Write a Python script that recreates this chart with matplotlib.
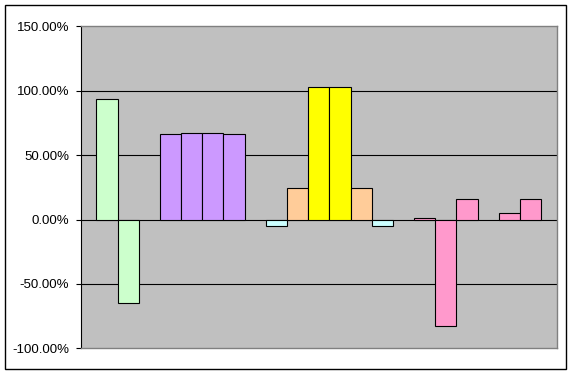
import matplotlib
matplotlib.use("Agg")
import matplotlib.pyplot as plt
from matplotlib.ticker import PercentFormatter
from matplotlib.patches import Rectangle

plt.rcParams['font.family'] = ['Liberation Sans', 'DejaVu Sans']
plt.rcParams['axes.unicode_minus'] = False

# bar values (%) per group, groups separated by one empty slot
groups = [
    [93.9, -65.2],
    [66.0, 66.8, 66.8, 66.0],
    [-4.7, 24.1, 102.5, 102.5, 24.1, -4.7],
    [1.5, -82.3, 16.3],
    [4.7, 16.3],
]
group_colors = [
    ["#CCFFCC", "#CCFFCC"],
    ["#CC99FF"] * 4,
    ["#CCFFFF", "#FFCC99", "#FFFF00", "#FFFF00", "#FFCC99", "#CCFFFF"],
    ["#FF99CC"] * 3,
    ["#FF99CC"] * 2,
]
yticks = [-100, -50, 0, 50, 100, 150]

fig = plt.figure(figsize=(5.73, 3.75), dpi=100)
W, H = 573, 375
ax = fig.add_axes([80.7 / W, (H - 348.3) / H, (557.3 - 80.7) / W, (348.3 - 26.3) / H])
ax.set_facecolor("#C0C0C0")

for y in [-50, 0, 50, 100]:
    ax.axhline(y, color="black", lw=0.8, zorder=1)

x = 0
for vals, cols in zip(groups, group_colors):
    xs = [x + i + 0.5 for i in range(len(vals))]
    ax.bar(xs, vals, width=1.0, color=cols, edgecolor="black", linewidth=0.8, zorder=2)
    x += len(vals) + 1

ax.set_xlim(-0.74, x - 1 + 0.76)
ax.set_ylim(-100, 150)
ax.set_yticks(yticks)
ax.yaxis.set_major_formatter(PercentFormatter(xmax=100, decimals=2))
ax.tick_params(axis="y", direction="out", length=3.4, width=0.8, pad=5, labelsize=9.5, colors="black")
ax.set_xticks([])

for s in ["top", "right", "bottom"]:
    ax.spines[s].set_color("#808080")
    ax.spines[s].set_linewidth(1.0)
ax.spines["left"].set_color("black")
ax.spines["left"].set_linewidth(0.8)

fig.patches.append(Rectangle((5.3 / W, (H - 369.3) / H), (566 - 5.3) / W, (369.3 - 5.3) / H,
                             transform=fig.transFigure, fill=False, edgecolor="black", linewidth=1.0))

fig.savefig("out.png", dpi=100)
